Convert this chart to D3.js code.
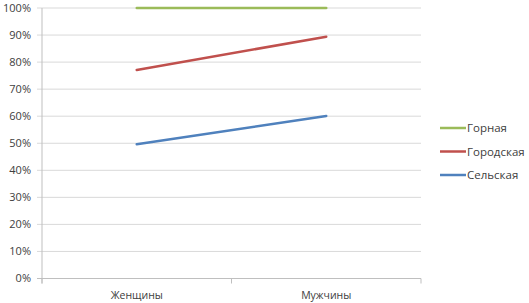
<!DOCTYPE html>
<html>
<head>
<meta charset="utf-8">
<script src="https://cdn.jsdelivr.net/npm/d3@7"></script>
<style>
  body { margin: 0; background: #fff; }
  text { font-family: "Open Sans", sans-serif; }
</style>
</head>
<body>
<script>
// data
var categories = ["Женщины", "Мужчины"];
var seriesNames = ["Горная", "Городская", "Сельская"];
var gornaya = [100, 100];
var gorodskaya = [77.1, 89.4];
var selskaya = [49.6, 60.1];
var colors = ["#9bbb59", "#c0504d", "#4f81bd"];
var yTicks = [0, 10, 20, 30, 40, 50, 60, 70, 80, 90, 100];

var series = [gornaya, gorodskaya, selskaya];

var svg = d3.select("body").append("svg")
    .attr("width", 529)
    .attr("height", 303);

var margin = {top: 8, left: 42, right: 108, bottom: 24.5};
var width = 529 - margin.left - margin.right;
var height = 303 - margin.top - margin.bottom;

var g = svg.append("g").attr("transform", "translate(" + margin.left + "," + margin.top + ")");

var x = d3.scaleBand().domain(categories).range([0, width]);
var y = d3.scaleLinear().domain([0, 100]).range([height, 0]);

// gridlines
g.selectAll(".grid")
  .data(yTicks)
  .enter().append("line")
    .attr("x1", -5).attr("x2", width)
    .attr("y1", function(d) { return y(d); })
    .attr("y2", function(d) { return y(d); })
    .attr("stroke", function(d) { return d == 0 ? "#bfbfbf" : "#d9d9d9"; })
    .attr("stroke-width", 1);

// y axis line
g.append("line")
  .attr("x1", 0).attr("x2", 0)
  .attr("y1", 0).attr("y2", height + 5)
  .attr("stroke", "#bfbfbf");

// category tick marks
g.selectAll(".ctick")
  .data([0, width / 2, width])
  .enter().append("line")
    .attr("x1", function(d) { return d; })
    .attr("x2", function(d) { return d; })
    .attr("y1", height).attr("y2", height + 5)
    .attr("stroke", "#bfbfbf");

// y labels
g.selectAll(".ylab")
  .data(yTicks)
  .enter().append("text")
    .attr("x", -11)
    .attr("y", function(d) { return y(d); })
    .attr("dy", "0.35em")
    .attr("text-anchor", "end")
    .attr("font-size", 11)
    .attr("fill", "#404040")
    .text(function(d) { return d + "%"; });

// x labels
g.selectAll(".xlab")
  .data(categories)
  .enter().append("text")
    .attr("x", function(d) { return x(d) + x.bandwidth() / 2; })
    .attr("y", height + 20)
    .attr("text-anchor", "middle")
    .attr("font-size", 10.5)
    .attr("fill", "#404040")
    .text(function(d) { return d; });

// lines
var line = d3.line()
  .x(function(d, i) { return x(categories[i]) + x.bandwidth() / 2; })
  .y(function(d) { return y(d); });

g.selectAll(".series")
  .data(series)
  .enter().append("path")
    .attr("d", function(d) { return line(d); })
    .attr("fill", "none")
    .attr("stroke", function(d, i) { return colors[i]; })
    .attr("stroke-width", 2.5)
    .attr("stroke-linecap", "round");

// legend
var legend = svg.selectAll(".legend")
  .data(seriesNames)
  .enter().append("g")
    .attr("transform", function(d, i) { return "translate(440," + (128 + i * 23.5) + ")"; });

legend.append("line")
  .attr("x1", 0).attr("x2", 26)
  .attr("stroke", function(d, i) { return colors[i]; })
  .attr("stroke-width", 2.5);

legend.append("text")
  .attr("x", 27)
  .attr("dy", "0.35em")
  .attr("font-size", 11.5)
  .attr("fill", "#404040")
  .text(function(d) { return d; });
</script>
</body>
</html>
